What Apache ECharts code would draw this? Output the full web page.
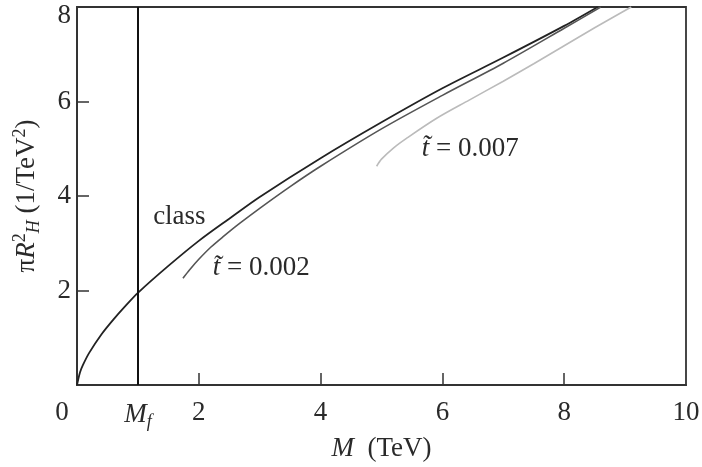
<!DOCTYPE html>
<html>
<head>
<meta charset="utf-8">
<script src="https://cdn.jsdelivr.net/npm/echarts@6/dist/echarts.min.js"></script>
<style>
  html, body { margin: 0; padding: 0; background: #fff; }
  #main { width: 702px; height: 467px; }
</style>
</head>
<body>
<div id="main"></div>
<script>
// curves, [M (TeV), pi R_H^2 (1/TeV^2)]
var classM = [0, 0.05, 0.1, 0.2, 0.4, 0.6, 0.8, 1, 1.5, 2, 2.5, 3, 4, 5, 6, 7, 8, 8.55];
var classV = [0, 0.27, 0.43, 0.68, 1.07, 1.39, 1.68, 1.95, 2.52, 3.05, 3.52, 3.98, 4.8, 5.56, 6.28, 6.93, 7.6, 8.0];

var t002M = [1.74, 1.85, 2.0, 2.2, 2.4, 2.67, 3.0, 3.5, 4, 5, 6, 7, 8, 8.6];
var t002V = [2.26, 2.44, 2.66, 2.92, 3.14, 3.42, 3.74, 4.2, 4.63, 5.42, 6.13, 6.81, 7.55, 8.0];

var t007M = [4.92, 5.0, 5.2, 5.41, 5.9, 6.44, 7, 7.5, 8, 8.5, 9.1];
var t007V = [4.63, 4.78, 5.02, 5.22, 5.64, 6.03, 6.43, 6.8, 7.18, 7.56, 8.0];

var Mf = 1.0;
var xLabelValues = [0, 1, 2, 4, 6, 8, 10];
var xTickValues = [2, 4, 6, 8];
var yLabelValues = [2, 4, 6, 8];
var yTickValues = [2, 4, 6];

function pairs(xs, ys) {
  var out = [];
  for (var i = 0; i < xs.length; i++) out.push([xs[i], ys[i]]);
  return out;
}

var serif = 'Liberation Serif';
var txt = '#2a2a2a';
var fs = 27;

var chart = echarts.init(document.getElementById('main'));

var option = {
  animation: false,
  grid: {
    left: 77, right: 16, top: 7, bottom: 82,
    outerBoundsMode: 'none',
    show: true,
    borderColor: '#333',
    borderWidth: 1.8
  },
  xAxis: {
    type: 'value',
    min: 0, max: 10,
    name: '{i|M}{n|  (TeV)}',
    nameLocation: 'middle',
    nameGap: 43,
    nameTextStyle: {
      rich: {
        i: { fontFamily: serif, fontStyle: 'italic', fontSize: fs, color: txt },
        n: { fontFamily: serif, fontSize: fs, color: txt }
      }
    },
    axisLine: { lineStyle: { color: '#333', width: 1.8 } },
    axisTick: { inside: true, length: 12, customValues: xTickValues, lineStyle: { color: '#333', width: 1.5 } },
    splitLine: { show: false },
    axisLabel: {
      customValues: xLabelValues,
      margin: 14,
      formatter: function (v) {
        if (v === 0) return '{o|0}';
        if (v === Mf) return '{m|M}{f|f}';
        return '{d|' + v + '}';
      },
      rich: {
        d: { fontFamily: serif, fontSize: fs, color: txt },
        o: { fontFamily: serif, fontSize: fs, color: txt, padding: [0, 30, 0, 0] },
        m: { fontFamily: serif, fontStyle: 'italic', fontSize: fs, color: txt },
        f: { fontFamily: serif, fontStyle: 'italic', fontSize: 18, color: txt, padding: [14, 0, 0, 0] }
      }
    }
  },
  yAxis: {
    type: 'value',
    min: 0, max: 8,
    name: '{n|\u03c0}{i|R}{sup|2}{sub|H}{n| (1/TeV}{sup|2}{n|)}',
    nameLocation: 'middle',
    nameRotate: 90,
    nameGap: 34,
    nameTextStyle: {
      rich: {
        n: { fontFamily: serif, fontSize: fs, color: txt },
        i: { fontFamily: serif, fontStyle: 'italic', fontSize: fs, color: txt },
        sup: { fontFamily: serif, fontSize: 18, color: txt, padding: [0, 0, 14, 0] },
        sub: { fontFamily: serif, fontStyle: 'italic', fontSize: 18, color: txt, padding: [14, 0, 0, 0] }
      }
    },
    axisLine: { lineStyle: { color: '#333', width: 1.8 } },
    axisTick: { inside: true, length: 12, customValues: yTickValues, lineStyle: { color: '#333', width: 1.5 } },
    splitLine: { show: false },
    axisLabel: {
      customValues: yLabelValues,
      margin: 6,
      formatter: function (v) {
        return v === 8 ? '{top|8}' : '{d|' + v + '}';
      },
      rich: {
        d: { fontFamily: serif, fontSize: fs, color: txt },
        top: { fontFamily: serif, fontSize: fs, color: txt, padding: [18, 0, 0, 0] }
      }
    }
  },
  series: [
    {
      name: 'class',
      type: 'line',
      data: pairs(classM, classV),
      showSymbol: false,
      smooth: 0.3,
      lineStyle: { color: '#222', width: 1.8 },
      markLine: {
        silent: true,
        symbol: 'none',
        lineStyle: { color: '#111', width: 2, type: 'solid' },
        label: { show: false },
        data: [{ xAxis: Mf }]
      },
      markPoint: {
        symbolSize: 0,
        label: {
          show: true, position: 'right', distance: 0,
          fontFamily: serif, fontSize: fs, color: txt,
          formatter: 'class'
        },
        data: [{ coord: [1.25, 3.55] }]
      }
    },
    {
      name: 't002',
      type: 'line',
      data: pairs(t002M, t002V),
      showSymbol: false,
      smooth: 0.3,
      lineStyle: { color: '#555', width: 1.6 },
      markPoint: {
        symbolSize: 0,
        label: {
          show: true, position: 'right', distance: 0,
          formatter: '{i|t\u0303}{n| = 0.002}',
          rich: {
            i: { fontFamily: serif, fontStyle: 'italic', fontSize: fs, color: txt },
            n: { fontFamily: serif, fontSize: fs, color: txt }
          }
        },
        data: [{ coord: [2.23, 2.47] }]
      }
    },
    {
      name: 't007',
      type: 'line',
      data: pairs(t007M, t007V),
      showSymbol: false,
      smooth: 0.3,
      lineStyle: { color: '#bbb', width: 1.6 },
      markPoint: {
        symbolSize: 0,
        label: {
          show: true, position: 'right', distance: 0,
          formatter: '{i|t\u0303}{n| = 0.007}',
          rich: {
            i: { fontFamily: serif, fontStyle: 'italic', fontSize: fs, color: txt },
            n: { fontFamily: serif, fontSize: fs, color: txt }
          }
        },
        data: [{ coord: [5.66, 5.0] }]
      }
    }
  ]
};

chart.setOption(option);
</script>
</body>
</html>
